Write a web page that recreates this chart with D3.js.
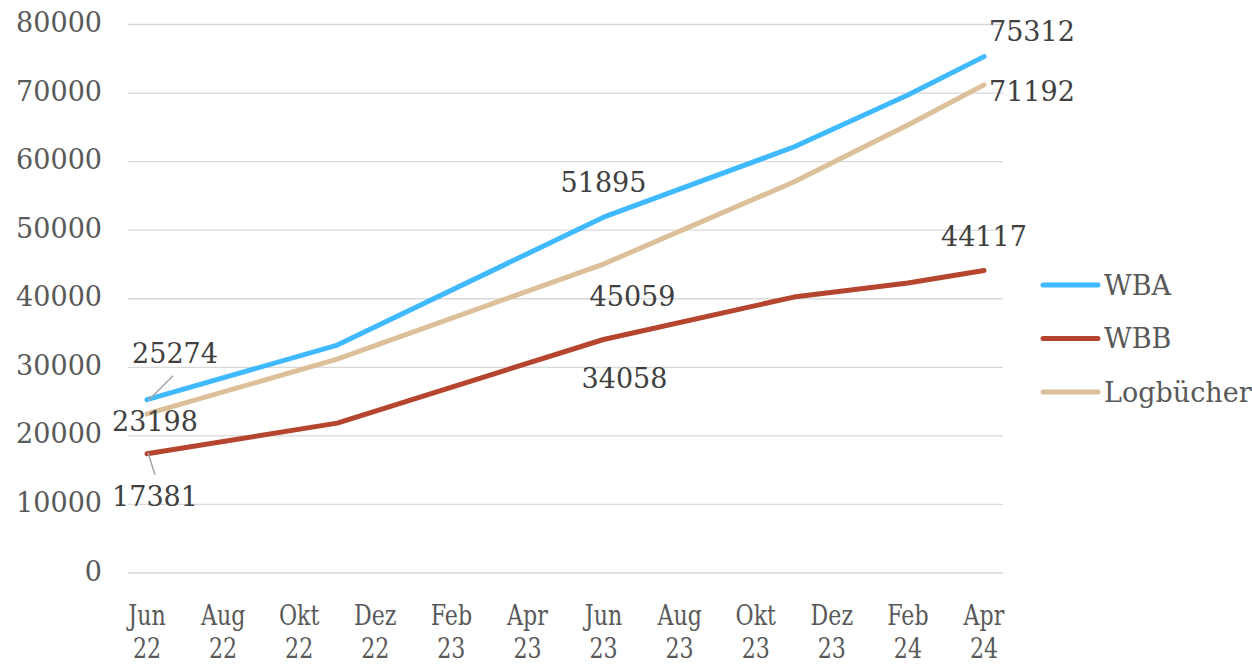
<!DOCTYPE html>
<meta charset="utf-8">
<style>
    body { margin: 0; background: #fff; }
    svg { font-family: "DejaVu Serif", serif; }
    .grid line { stroke: #d9d9d9; stroke-width: 1.3; }
    .tick-label { fill: #595959; font-size: 27px; }
    .data-label { fill: #404040; font-size: 27px; }
    .legend text { fill: #595959; font-size: 27px; }
    .series { fill: none; stroke-width: 5; stroke-linejoin: round; stroke-linecap: round; }
</style>

<svg width="1252" height="666"></svg>

<script src="https://d3js.org/d3.v7.min.js"></script>
<script>
// month labels on the x axis (one every two months)
var tickLabels = ["Jun 22", "Aug 22", "Okt 22", "Dez 22", "Feb 23", "Apr 23",
                  "Jun 23", "Aug 23", "Okt 23", "Dez 23", "Feb 24", "Apr 24"];
// months since Jun 22 where there is a measurement
var pointMonths = [0, 5, 12, 17, 20, 22];
var wba = [25274, 33240, 51895, 62130, 69720, 75312];
var wbb = [17381, 21860, 34058, 40245, 42290, 44117];
var logbuecher = [23198, 31200, 45059, 57030, 65340, 71192];
var seriesNames = ["WBA", "WBB", "Logbücher"];
var yTicks = [0, 10000, 20000, 30000, 40000, 50000, 60000, 70000, 80000];

var colors = ["#3fb9ff", "#b5452f", "#dbc09a"];
// where the value labels sit, relative to their point (index into series, dx, dy)
var labelSpots = [
    [[0, 28, -46], [2, 0, -35], [5, 48, -25]],
    [[0, 8, 43], [2, 21, 39], [5, 0, -34]],
    [[0, 8, 8], [2, 29, 32], [5, 48, 7]]
];

var svg = d3.select("svg");
var x = d3.scaleLinear().domain([-0.5, 22.5]).range([128, 1003]);
var y = d3.scaleLinear().domain([0, 80000]).range([573, 24.5]);

svg.append("g")
    .attr("class", "grid")
    .selectAll("line")
    .data(yTicks)
    .enter()
    .append("line")
    .attr("x1", x.range()[0])
    .attr("x2", x.range()[1])
    .attr("y1", function(d) { return y(d); })
    .attr("y2", function(d) { return y(d); });

svg.append("g")
    .selectAll("text")
    .data(yTicks)
    .enter()
    .append("text")
    .attr("class", "tick-label")
    .attr("x", 102)
    .attr("y", function(d) { return y(d) - 2; })
    .attr("text-anchor", "end")
    .attr("dominant-baseline", "central")
    .text(function(d) { return d; });

var xl = svg.append("g")
    .selectAll("text")
    .data(tickLabels)
    .enter()
    .append("text")
    .attr("class", "tick-label")
    .attr("text-anchor", "middle")
    .attr("transform", function(d, i) { return "translate(" + x(i * 2) + ",0) scale(0.82,1)"; });
xl.append("tspan").attr("x", 0).attr("y", 625).text(function(d) { return d.split(" ")[0]; });
xl.append("tspan").attr("x", 0).attr("y", 658).text(function(d) { return d.split(" ")[1]; });

var allSeries = [wba, wbb, logbuecher];
var line = d3.line()
    .x(function(d, i) { return x(pointMonths[i]); })
    .y(function(d) { return y(d); });

// draw WBA last so it stays on top like the original
[2, 1, 0].forEach(function(s) {
    svg.append("path")
        .attr("class", "series")
        .attr("stroke", colors[s])
        .attr("d", line(allSeries[s]));
});

// leader lines for the two labels pushed away from the first point
var leaders = [[0, 0, 26, -24], [1, 0, 8, 21]];
leaders.forEach(function(l) {
    var px = x(pointMonths[l[1]]), py = y(allSeries[l[0]][l[1]]);
    svg.append("line")
        .attr("x1", px + 1).attr("y1", py - Math.sign(l[3]))
        .attr("x2", px + l[2]).attr("y2", py + l[3])
        .attr("stroke", "#a6a6a6")
        .attr("stroke-width", 1.5);
});

labelSpots.forEach(function(spots, s) {
    spots.forEach(function(sp) {
        var v = allSeries[s][sp[0]];
        svg.append("text")
            .attr("class", "data-label")
            .attr("x", x(pointMonths[sp[0]]) + sp[1])
            .attr("y", y(v) + sp[2])
            .attr("text-anchor", "middle")
            .attr("dominant-baseline", "central")
            .text(v);
    });
});

var legend = svg.append("g")
    .attr("class", "legend")
    .selectAll("g")
    .data(seriesNames)
    .enter()
    .append("g")
    .attr("transform", function(d, i) { return "translate(1043," + (285 + i * 53.5) + ")"; });
legend.append("line")
    .attr("x1", 0).attr("x2", 55)
    .attr("stroke", function(d, i) { return colors[i]; })
    .attr("stroke-width", 5)
    .attr("stroke-linecap", "round");
legend.append("text")
    .attr("x", 61)
    .attr("dominant-baseline", "central")
    .text(function(d) { return d; });
</script>
